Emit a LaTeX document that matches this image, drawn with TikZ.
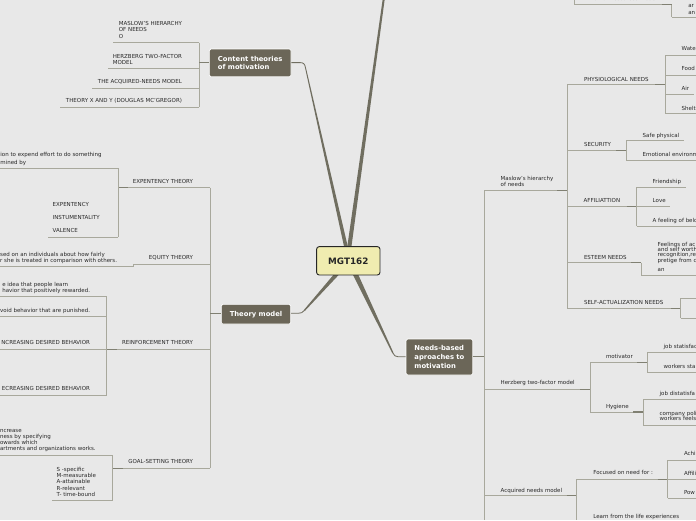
\documentclass[tikz,border=0pt]{standalone}
\usepackage{fontspec}
\setmainfont{DejaVu Sans}
\definecolor{bg}{RGB}{232,232,232}
\definecolor{ulc}{RGB}{168,168,156}
\definecolor{jnc}{RGB}{128,128,114}
\definecolor{conn}{RGB}{112,110,96}
\definecolor{topicf}{RGB}{107,102,88}
\definecolor{centerf}{RGB}{240,236,176}
\definecolor{txt}{RGB}{40,40,40}
\tikzset{
  lbl/.style={inner sep=0pt, outer sep=0pt, text=txt, font=\fontsize{5.5}{6.2}\selectfont, align=left},
  ul/.style={draw=ulc, line width=0.75pt},
  jn/.style={draw=jnc, line width=1.1pt},
  thinconn/.style={draw=conn, line width=0.85pt},
  topic/.style={fill=topicf, draw=white, line width=0.7pt, rounded corners=1.5pt, text=white,
    font=\fontsize{6.8}{8.8}\selectfont\bfseries, align=left, inner xsep=6pt, inner ysep=0pt},
  rootbox/.style={fill=centerf, draw=black!85, line width=0.9pt, rounded corners=2.5pt, text=black!85,
    font=\fontsize{8.8}{10}\selectfont\bfseries, minimum width=63.3pt, minimum height=28.3pt, inner sep=0pt}
}
\newcommand\hseg[3]{\draw[ul] (#2,#1) -- (#3,#1);}
\newcommand\vseg[3]{\draw[ul] (#1,#2) -- (#1,#3);}
\newcommand\jseg[3]{\draw[jn] (#2,#1) -- (#3,#1);}
\begin{document}
\begin{tikzpicture}[x=1pt,y=-1pt]
\useasboundingbox (0,0) rectangle (696,520);
\fill[bg] (0,0) rectangle (696,520);

% ---------- topic boxes ----------
\node[topic, minimum width=81.7pt, minimum height=27.7pt] (content) at (250.2,62.9) {Content theories\\of motivation};
\node[topic, minimum width=69.4pt, minimum height=19.7pt] (theory) at (256,314.2) {Theory model};
\node[topic, minimum width=66.7pt, minimum height=36pt] (needs) at (439.4,357) {Needs-based\\aproaches to\\motivation};

% ---------- main connectors ----------
\fill[conn] (346.8,250) -- (351,250) -- (384.6,0) -- (382.6,0) -- cycle;
\fill[conn] (344.8,250) -- (348.6,250) -- (306,68) -- (305.1,68) -- cycle;
\draw[thinconn] (305.55,68) .. controls (304.9,63.8) and (303.4,62.6) .. (300,62.6) -- (content.east |- 0,62.6);
\fill[conn] (335,273) -- (340.5,273) -- (304.8,311) -- (303.6,310.3) -- cycle;
\draw[thinconn] (304.2,310.6) .. controls (302.6,312.6) and (301,313.3) .. (298,313.3) -- (theory.east |- 0,313.3);
\fill[conn] (352,273) -- (357.5,273) -- (393.4,352.6) -- (392.3,353.2) -- cycle;
\draw[thinconn] (392.8,352.9) .. controls (394,355.6) and (395.5,356.7) .. (398,356.7) -- (needs.west |- 0,356.7);

\node[rootbox] (root) at (348.3,260.8) {MGT162};

% ---------- Content theories branch ----------
\vseg{199}{42.7}{107.3}
\jseg{62.6}{199}{209.3}
\hseg{42.7}{113.3}{199}
\hseg{68.7}{108.3}{199}
\hseg{88.3}{92.3}{199}
\hseg{107.3}{60}{199}
\node[lbl, anchor=north east, font=\fontsize{5.5}{6.6}\selectfont] (c1) at (182,21) {MASLOW'S HIERARCHY\\OF NEEDS\\O};
\node[lbl, anchor=north east, font=\fontsize{5.5}{6}\selectfont] (c2) at (182,54) {HERZBERG TWO-FACTOR\\MODEL};
\node[lbl, anchor=base east] (c3) at (182,83.3) {THE ACQUIRED-NEEDS MODEL};
\node[lbl, anchor=base east] (c4) at (182,102.7) {THEORY X AND Y (DOUGLAS MC'GREGOR)};

% ---------- Theory model branch ----------
\vseg{210}{187.7}{468.3}
\jseg{313.3}{210}{221.3}
% expentency
\hseg{187.7}{118.3}{210}
\jseg{187.7}{118.3}{128.3}
\vseg{118.3}{168}{237}
\hseg{168}{0}{118.3}
\hseg{237}{48.3}{118.3}
% equity
\hseg{264}{133.3}{210}
\vseg{133.3}{264}{266.7}
\hseg{266.7}{0}{133.3}
% reinforcement
\hseg{349.3}{106.7}{210}
\jseg{349.3}{106.7}{117}
\vseg{106.7}{296.7}{395.3}
\hseg{296.7}{0}{106.7}
\hseg{316.7}{0}{106.7}
\hseg{349.3}{0}{106.7}
\hseg{395.3}{0}{106.7}
% goal-setting
\hseg{468.3}{112.7}{210}
\jseg{468.3}{112.7}{123}
\vseg{112.7}{455}{500.7}
\hseg{455}{0}{112.7}
\hseg{500.7}{52.3}{112.7}

\node[lbl, anchor=base east] (t1) at (193,183.3) {EXPENTENCY THEORY};
\node[lbl, anchor=base east] (t2) at (193,259) {EQUITY THEORY};
\node[lbl, anchor=base east] (t3) at (193,344.7) {REINFORCEMENT THEORY};
\node[lbl, anchor=base east] (t4) at (193,463.7) {GOAL-SETTING THEORY};
\node[lbl, anchor=north east, font=\fontsize{5.5}{7.3}\selectfont] (e1) at (101.7,152.7) {ion to expend effort to do something\\mined by};
\node[lbl, anchor=north west, font=\fontsize{5.5}{13}\selectfont] (e2) at (52.7,202.8) {EXPENTENCY\\INSTUMENTALITY\\VALENCE};
\node[lbl, anchor=north east, font=\fontsize{5.5}{6}\selectfont] (q1) at (117,252.3) {sed on an individuals about how fairly\\r she is treated in comparison with others.};
\node[lbl, anchor=north east, font=\fontsize{5.5}{6}\selectfont] (r1) at (90,282.3) {e idea that people learn\\havior that positively rewarded.};
\node[lbl, anchor=base east] (r2) at (90,312.3) {void behavior that are punished.};
\node[lbl, anchor=base east] (r3) at (90,344.7) {NCREASING DESIRED BEHAVIOR};
\node[lbl, anchor=base east] (r4) at (90,390.7) {ECREASING DESIRED BEHAVIOR};
\node[lbl, anchor=north east, font=\fontsize{5.5}{6.2}\selectfont] (g1) at (95.7,429.3) {ncrease\\ness by specifying\\owards which\\artments and organizations works.};
\node[lbl, anchor=north west, font=\fontsize{5.5}{6.4}\selectfont] (g2) at (56.7,467) {S -specific\\M-measurable\\A-attainable\\R-relevant\\T- time-bound};

% ---------- Needs-based branch ----------
\vseg{484}{190.3}{520}
\jseg{356.7}{472.7}{484}
% Maslow
\hseg{190.3}{484}{567.3}
\jseg{190.3}{557.3}{567.3}
\vseg{567.3}{84.3}{308.7}
\hseg{84.3}{567.3}{665.3}
\jseg{84.3}{655.3}{665.3}
\vseg{665.3}{55.3}{113.7}
\hseg{55.3}{665.3}{696}
\hseg{75}{665.3}{696}
\hseg{94.3}{665.3}{694}
\hseg{113.7}{665.3}{696}
\hseg{150.7}{567.3}{626}
\jseg{150.7}{616}{626}
\vseg{626}{140.7}{160.3}
\hseg{140.7}{626}{684}
\hseg{160.3}{626}{696}
\hseg{206.7}{567.3}{636.7}
\jseg{206.7}{626.7}{636.7}
\vseg{636.7}{187.3}{226.3}
\hseg{187.3}{636.7}{686}
\hseg{206.7}{636.7}{670.3}
\hseg{226.3}{636.7}{696}
\hseg{262.7}{567.3}{641.3}
\jseg{262.7}{631.3}{641.3}
\vseg{641.3}{262.7}{275.7}
\hseg{275.7}{641.3}{696}
\hseg{308.7}{567.3}{680.7}
\jseg{308.7}{670.7}{680.7}
\vseg{680.7}{298.3}{318.3}
\hseg{298.3}{680.7}{696}
\hseg{318.3}{680.7}{696}
% Herzberg
\hseg{389.3}{484}{590}
\jseg{389.3}{580}{590}
\vseg{590}{362.3}{412}
\hseg{362.3}{590}{647.3}
\jseg{362.3}{637.3}{647.3}
\vseg{647.3}{352.7}{372.3}
\hseg{352.7}{647.3}{696}
\hseg{372.3}{647.3}{696}
\hseg{412}{590}{643.3}
\jseg{412}{633.3}{643.3}
\vseg{643.3}{399.3}{425.3}
\hseg{399.3}{643.3}{696}
\hseg{425.3}{643.3}{696}
% Acquired
\hseg{495.3}{484}{576.7}
\jseg{495.3}{566.7}{576.7}
\vseg{576.7}{479.3}{520}
\hseg{479.3}{576.7}{667.7}
\jseg{479.3}{657.7}{667.7}
\vseg{667.7}{460}{498.3}
\hseg{460}{667.7}{696}
\hseg{479.3}{667.7}{696}
\hseg{498.3}{667.7}{696}
% top branch (Human resources model)
\vseg{574}{0}{4.7}
\hseg{4.7}{574}{671.7}
\jseg{4.7}{661.7}{671.7}
\vseg{671.7}{4.7}{17.3}
\hseg{17.3}{671.7}{696}

\node[lbl, anchor=base west] (hr) at (590,0.8) {Human resources model};
\node[lbl, anchor=north west, font=\fontsize{5.5}{6.8}\selectfont] (hr1) at (688.3,4.3) {ar\\an};

\node[lbl, anchor=north west, font=\fontsize{5.5}{5.9}\selectfont] (m0) at (500.7,176) {Maslow's hierarchy\\of needs};
\node[lbl, anchor=base west] (h0) at (500.7,384.7) {Herzberg two-factor model};
\node[lbl, anchor=base west] (a0) at (500.7,492) {Acquired needs model};

\node[lbl, anchor=base west] (m1) at (584,81) {PHYSIOLOGICAL NEEDS};
\node[lbl, anchor=base west] (m2) at (584,146.7) {SECURITY};
\node[lbl, anchor=base west] (m3) at (583.7,202.7) {AFFILIATTION};
\node[lbl, anchor=base west] (m4) at (584,259) {ESTEEM NEEDS};
\node[lbl, anchor=base west] (m5) at (584,304.7) {SELF-ACTUALIZATION NEEDS};

\node[lbl, anchor=base west] (p1) at (681.7,50.3) {Wate};
\node[lbl, anchor=base west] (p2) at (681.7,70.7) {Food};
\node[lbl, anchor=base west] (p3) at (681.7,90) {Air};
\node[lbl, anchor=base west] (p4) at (681.7,110) {Shelt};
\node[lbl, anchor=base west] (s1) at (642.7,137) {Safe physical};
\node[lbl, anchor=base west] (s2) at (642.7,156) {Emotional environm};
\node[lbl, anchor=base west] (f1) at (652.7,183) {Friendship};
\node[lbl, anchor=base west] (f2) at (652.7,202.7) {Love};
\node[lbl, anchor=base west] (f3) at (652.7,222.3) {A feeling of belo};
\node[lbl, anchor=north west, font=\fontsize{5.5}{5.4}\selectfont] (es1) at (657.7,242) {Feelings of ac\\and self worth\\recognition,re\\pretige from c};
\node[lbl, anchor=base west] (es2) at (657.7,271.3) {an};

\node[lbl, anchor=base west] (hz1) at (606,358.7) {motivator};
\node[lbl, anchor=base west] (hz2) at (606,408) {Hygiene};
\node[lbl, anchor=base west] (hz3) at (663.7,348.3) {job statisfac};
\node[lbl, anchor=base west] (hz4) at (663.7,368) {workers sta};
\node[lbl, anchor=base west] (hz5) at (659.7,395.3) {job distatisfa};
\node[lbl, anchor=north west, font=\fontsize{5.5}{5.4}\selectfont] (hz6) at (659.7,411.3) {company poli\\workers feels};

\node[lbl, anchor=base west] (aq1) at (593.3,474.7) {Focused on need for :};
\node[lbl, anchor=base west] (aq2) at (593.3,518) {Learn from the life experiences};
\node[lbl, anchor=base west] (aq3) at (684,455.7) {Achi};
\node[lbl, anchor=base west] (aq4) at (684,475) {Affili};
\node[lbl, anchor=base west] (aq5) at (684,494.3) {Pow};
\end{tikzpicture}
\end{document}
